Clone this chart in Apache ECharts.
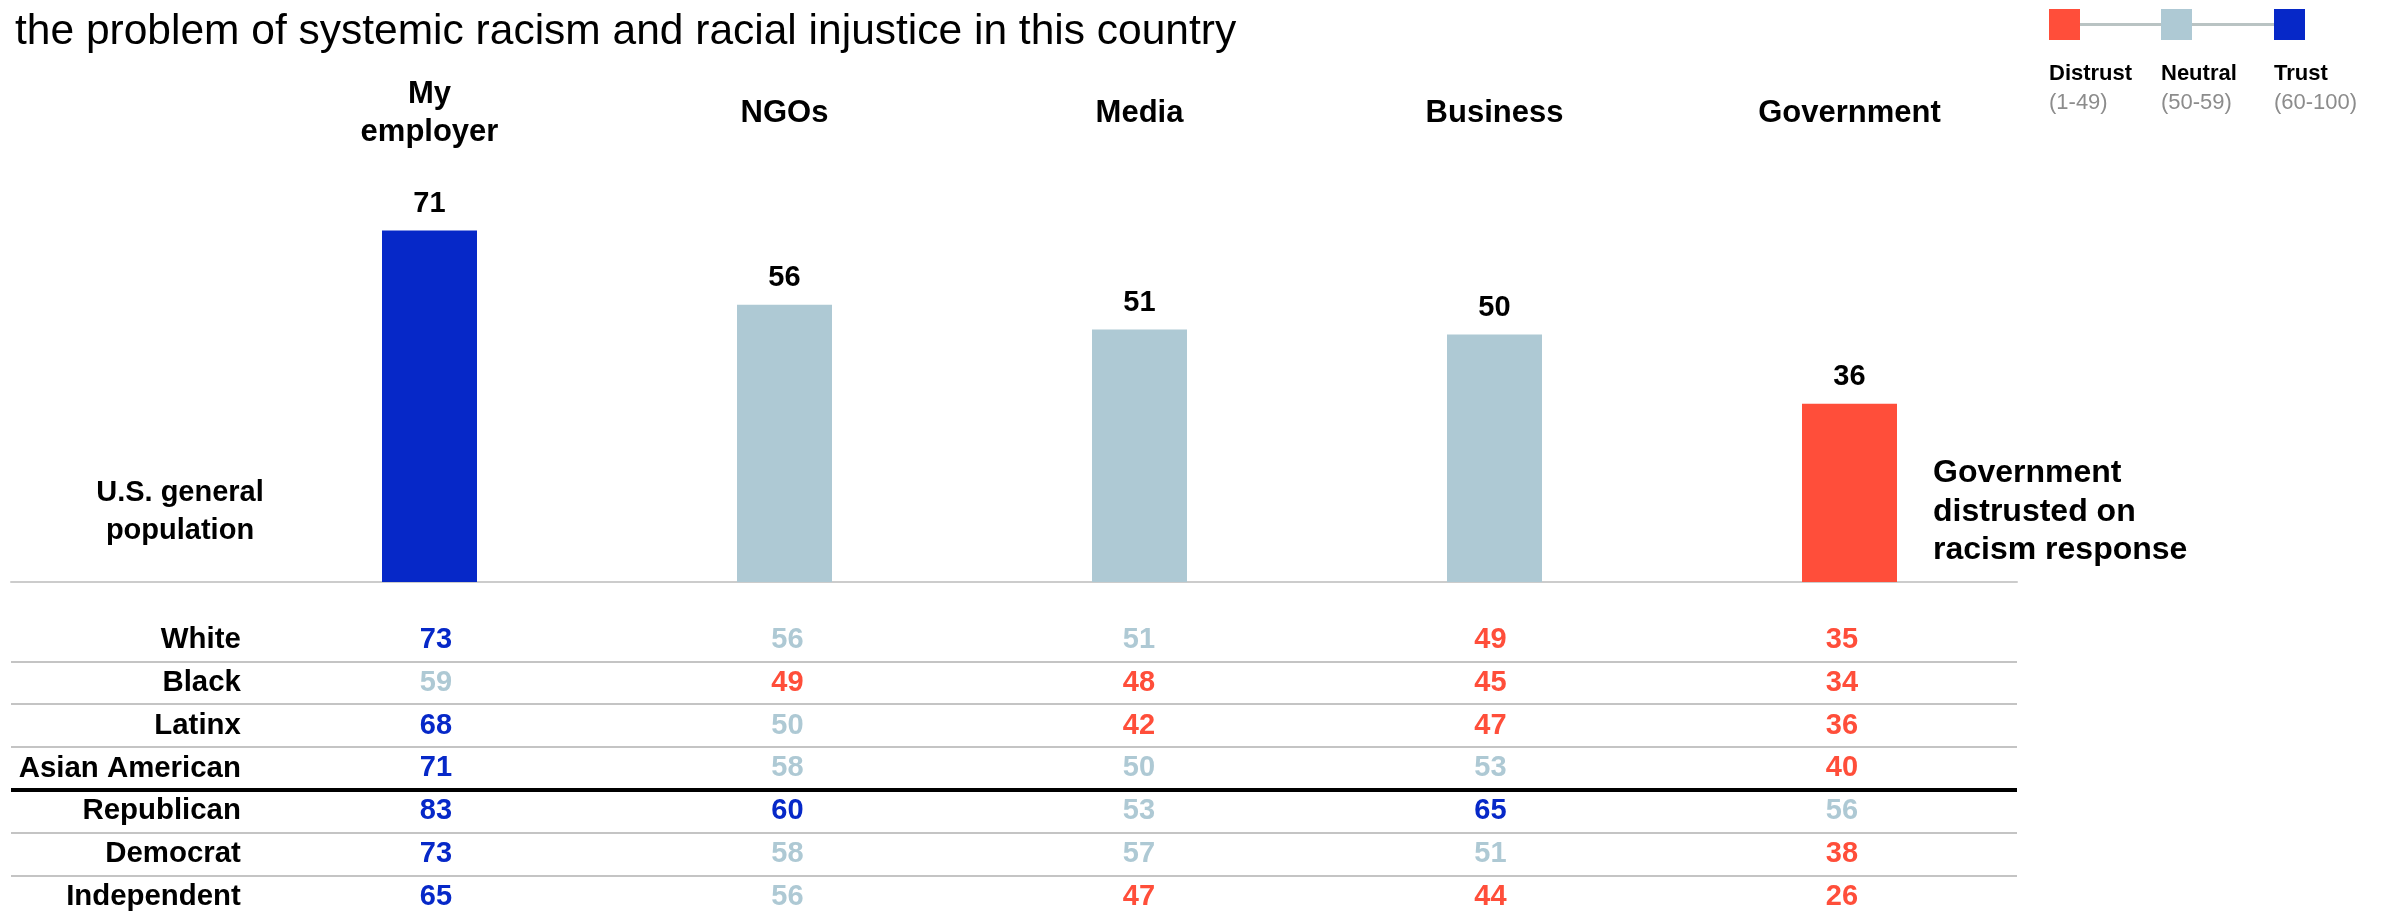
<!DOCTYPE html>
<html>
<head>
<meta charset="utf-8">
<script src="https://cdn.jsdelivr.net/npm/echarts@6/dist/echarts.min.js"></script>
<style>
html,body{margin:0;padding:0;background:#fff;}
#chart{width:2392px;height:916px;}
</style>
</head>
<body>
<div id="chart"></div>
<script>
// ---------- data ----------
const CATEGORIES = ['My employer', 'NGOs', 'Media', 'Business', 'Government'];
const HEADER_LABELS = ['My\nemployer', 'NGOs', 'Media', 'Business', 'Government'];
const GENERAL_POPULATION = [71, 56, 51, 50, 36];

const ROW_LABELS = ['White', 'Black', 'Latinx', 'Asian American', 'Republican', 'Democrat', 'Independent'];
const WHITE = [73, 56, 51, 49, 35];
const BLACK = [59, 49, 48, 45, 34];
const LATINX = [68, 50, 42, 47, 36];
const ASIAN_AMERICAN = [71, 58, 50, 53, 40];
const REPUBLICAN = [83, 60, 53, 65, 56];
const DEMOCRAT = [73, 58, 57, 51, 38];
const INDEPENDENT = [65, 56, 47, 44, 26];
const GROUP_BREAK_AFTER = 3; // thick rule after "Asian American"

const LEGEND_LABELS = ['Distrust', 'Neutral', 'Trust'];
const LEGEND_RANGES = ['(1-49)', '(50-59)', '(60-100)'];

// ---------- styles ----------
const BLUE = '#0628C8';
const NEUTRAL = '#AEC9D4';
const RED = '#FF4E3A';
const FONT = '"Liberation Sans", Arial, Helvetica, sans-serif';
function trustColor(v) { return v >= 60 ? BLUE : (v >= 50 ? NEUTRAL : RED); }

const TABLE = [WHITE, BLACK, LATINX, ASIAN_AMERICAN, REPUBLICAN, DEMOCRAT, INDEPENDENT];
const ROW_LABEL_X = -0.555; // column-space position of the row-label right edge

const cellData = [];
TABLE.forEach((row, r) => {
  row.forEach((v, c) => {
    cellData.push({ value: [c, r, v], label: { color: trustColor(v) } });
  });
});

const sepLines = [];
for (let i = 0; i < ROW_LABELS.length - 1; i++) {
  const thick = i === GROUP_BREAK_AFTER;
  sepLines.push({
    yAxis: i + 0.5,
    lineStyle: { color: thick ? '#000000' : '#C4C4C4', width: thick ? 4 : 2, type: 'solid' }
  });
}

const chart = echarts.init(document.getElementById('chart'), null, { renderer: 'canvas' });

const legendGraphics = [];
const legendX = [2049, 2161, 2274];
legendGraphics.push({
  type: 'line', silent: true,
  shape: { x1: legendX[0] + 31, y1: 24.5, x2: legendX[2], y2: 24.5 },
  style: { stroke: '#B9C3C3', lineWidth: 3 }
});
[RED, NEUTRAL, BLUE].forEach((col, i) => {
  legendGraphics.push({
    type: 'rect', silent: true,
    shape: { x: legendX[i], y: 9, width: 31, height: 31 },
    style: { fill: col }
  });
  legendGraphics.push({
    type: 'text', silent: true, x: legendX[i], y: 74,
    style: { text: LEGEND_LABELS[i], fontSize: 22, fontWeight: 'bold', fontFamily: FONT, fill: '#000', verticalAlign: 'middle', align: 'left' }
  });
  legendGraphics.push({
    type: 'text', silent: true, x: legendX[i], y: 103,
    style: { text: LEGEND_RANGES[i], fontSize: 22, fontFamily: FONT, fill: '#8C8C8C', verticalAlign: 'middle', align: 'left' }
  });
});

const option = {
  animation: false,
  backgroundColor: '#ffffff',
  textStyle: { fontFamily: FONT },
  grid: [
    { left: 252, right: 365, top: 87, bottom: 334 },
    { left: 11, right: 375, top: 582, bottom: 0 }
  ],
  xAxis: [
    { gridIndex: 0, type: 'category', data: CATEGORIES, show: false },
    {
      gridIndex: 0, type: 'category', position: 'top', data: HEADER_LABELS,
      axisLine: { show: false, onZero: false }, axisTick: { show: false }, splitLine: { show: false },
      axisLabel: { interval: 0, fontSize: 31, fontWeight: 'bold', color: '#000', lineHeight: 38, verticalAlign: 'middle', margin: -26, fontFamily: FONT }
    },
    {
      gridIndex: 1, type: 'value', position: 'top', min: -1.2091, max: 4.4979,
      axisLine: { show: true, onZero: false, lineStyle: { color: '#CCCCCC', width: 2 } },
      axisTick: { show: false }, axisLabel: { show: false }, splitLine: { show: false }
    }
  ],
  yAxis: [
    { gridIndex: 0, type: 'value', min: 0, max: 100, show: false },
    { gridIndex: 1, type: 'value', inverse: true, min: -1.3551, max: 6.4486, show: false }
  ],
  graphic: [
    {
      type: 'text', silent: true, x: 15, y: 32,
      style: { text: 'the problem of systemic racism and racial injustice in this country', fontSize: 42.5, fontFamily: FONT, fill: '#000', verticalAlign: 'middle' }
    },
    {
      type: 'text', silent: true, x: 180, y: 512,
      style: { text: 'U.S. general\npopulation', fontSize: 29, fontWeight: 'bold', fontFamily: FONT, fill: '#000', align: 'center', verticalAlign: 'middle', lineHeight: 38 }
    },
    {
      type: 'text', silent: true, x: 1933, y: 512,
      style: { text: 'Government\ndistrusted on\nracism response', fontSize: 32, fontWeight: 'bold', fontFamily: FONT, fill: '#000', align: 'left', verticalAlign: 'middle', lineHeight: 38.5 }
    }
  ].concat(legendGraphics),
  series: [
    {
      type: 'bar', xAxisIndex: 0, yAxisIndex: 0, barWidth: 95,
      data: GENERAL_POPULATION.map(v => ({ value: v, itemStyle: { color: trustColor(v) } })),
      label: { show: true, position: 'top', distance: 12, fontSize: 29, fontWeight: 'bold', color: '#000', fontFamily: FONT },
      silent: true
    },
    {
      type: 'scatter', xAxisIndex: 2, yAxisIndex: 1, symbolSize: 0.1,
      itemStyle: { color: 'rgba(0,0,0,0)', opacity: 1 },
      data: ROW_LABELS.map((name, i) => ({ name: name, value: [ROW_LABEL_X, i] })),
      label: { show: true, position: 'left', distance: 0, formatter: '{b}', fontSize: 29.4, fontWeight: 'bold', color: '#000', fontFamily: FONT },
      markLine: { silent: true, symbol: ['none', 'none'], label: { show: false }, data: sepLines },
      silent: true
    },
    {
      type: 'scatter', xAxisIndex: 2, yAxisIndex: 1, symbolSize: 0.1,
      itemStyle: { color: 'rgba(0,0,0,0)', opacity: 1 },
      data: cellData,
      label: { show: true, position: 'inside', formatter: p => String(p.value[2]), fontSize: 29, fontWeight: 'bold', fontFamily: FONT, textBorderWidth: 0 },
      silent: true
    }
  ]
};
chart.setOption(option);
</script>
</body>
</html>
